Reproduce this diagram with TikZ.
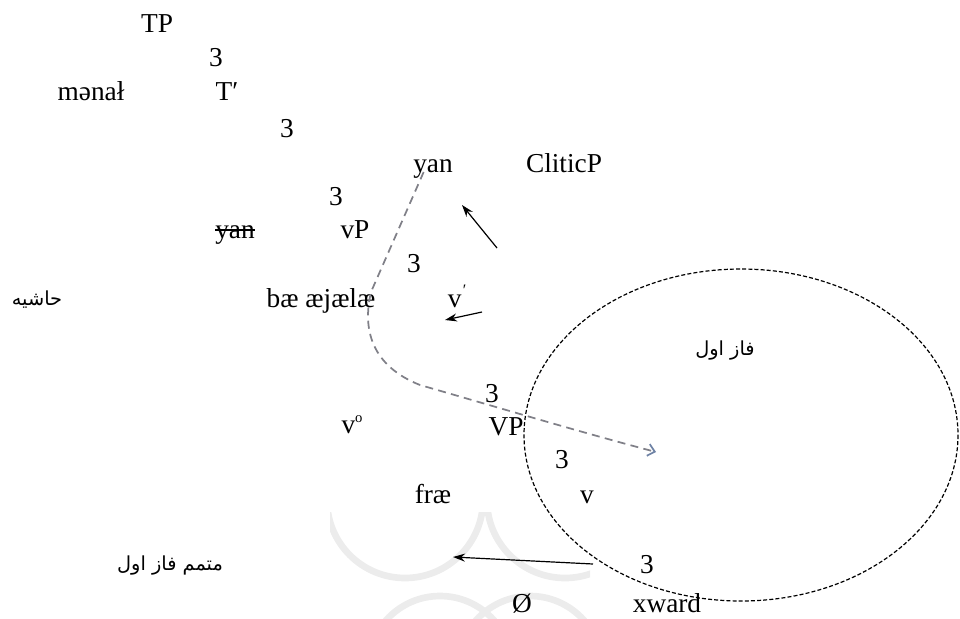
\documentclass[tikz,border=0pt]{standalone}
\usepackage{fontspec}
\setmainfont{Liberation Serif}
\newfontfamily\arabicfont[Script=Arabic]{DejaVu Sans}
\TeXXeTstate=1
\usetikzlibrary{arrows.meta}
\definecolor{dashgray}{RGB}{128,128,136}
\definecolor{headblue}{RGB}{110,130,165}
\definecolor{wmark}{RGB}{236,236,236}
\begin{document}
\begin{tikzpicture}[x=0.75pt,y=-0.75pt,
  lbl/.style={anchor=base, inner sep=0pt, font=\fontsize{20.5}{24}\selectfont},
  artext/.style={inner sep=0pt, font=\arabicfont\fontsize{14.5}{17}\selectfont},
  solidarrow/.style={-{Stealth[length=9pt,width=6pt]}, line width=0.9pt},
  movepath/.style={dashgray, line width=1.3pt, dash pattern=on 6pt off 4pt,
    -{Straight Barb[length=5pt,width=9pt,color=headblue]}},
  phase/.style={line width=0.9pt, dash pattern=on 3pt off 1.6pt}]
\useasboundingbox (0,0) rectangle (960,618);
% faint watermark
\begin{scope}
  \clip (330,512) rectangle (590,618);
  \draw[wmark, line width=5pt] (405,500) circle[radius=78];
  \draw[wmark, line width=5pt] (565,500) circle[radius=78];
  \draw[wmark, line width=5pt] (440,668) circle[radius=72];
  \draw[wmark, line width=5pt] (530,668) circle[radius=72];
\end{scope}
% tree labels
\node[lbl] (tp) at (157,32) {TP};
\node[lbl] (t1) at (216,66) {3};
\node[lbl] (menal) at (91,100) {mənał};
\node[lbl] (tbar) at (227,100) {T′};
\node[lbl] (t2) at (287,137) {3};
\node[lbl] (yan) at (433,172) {yan};
\node[lbl] (clitic) at (564,172) {CliticP};
\node[lbl] (t3) at (336,205) {3};
\node[lbl] (yanS) at (235,238) {yan};
\draw[line width=0.8pt] ([yshift=6pt]yanS.base west) -- ([yshift=6pt]yanS.base east);
\node[lbl] (vp) at (355,238) {vP};
\node[lbl] (t4) at (414,272) {3};
\node[lbl] (bae) at (321,307) {bæ æjælæ};
\node[lbl] (vbar) at (457,307) {v\hspace{1pt}\raisebox{9pt}{\fontsize{12}{12}\selectfont ′}};
\node[lbl] (t5) at (492,402) {3};
\node[lbl] (vzero) at (352,433) {v\raisebox{8pt}{\fontsize{11}{11}\selectfont o}};
\node[lbl] (VP) at (506,435) {VP};
\node[lbl] (t6) at (562,468) {3};
\node[lbl] (frae) at (433,503) {fræ};
\node[lbl] (v) at (587,503) {v};
\node[lbl] (t7) at (647,573) {3};
\node[lbl] (empty) at (522,612) {Ø};
\node[lbl] (xward) at (667,612) {xward};
% Arabic-script labels
\node[artext] (hashie) at (37,300) {\beginR حاشیه\endR};
\node[artext] (faz) at (725,351) {\beginR فاز اول\endR};
\node[artext] (motammem) at (170,566) {\beginR متمم فاز اول\endR};
% phase ellipse
\coordinate (ellc) at (741,435);
\draw[phase] (ellc) ellipse[x radius=217, y radius=166];
% solid arrows
\coordinate (a1s) at (497,248); \coordinate (a1e) at (462,205);
\coordinate (a2s) at (482,312); \coordinate (a2e) at (445,320);
\coordinate (a3s) at (593,564); \coordinate (a3e) at (453,557);
\draw[solidarrow] (a1s) -- (a1e);
\draw[solidarrow] (a2s) -- (a2e);
\draw[solidarrow] (a3s) -- (a3e);
% movement path
\coordinate (mvend) at (656,452);
\draw[movepath] ([xshift=-7pt]yan.base) -- (371,292)
  .. controls (362,330) and (372,366) .. (420,385)
  .. controls (500,408) and (580,432) .. (mvend);
\end{tikzpicture}
\end{document}
